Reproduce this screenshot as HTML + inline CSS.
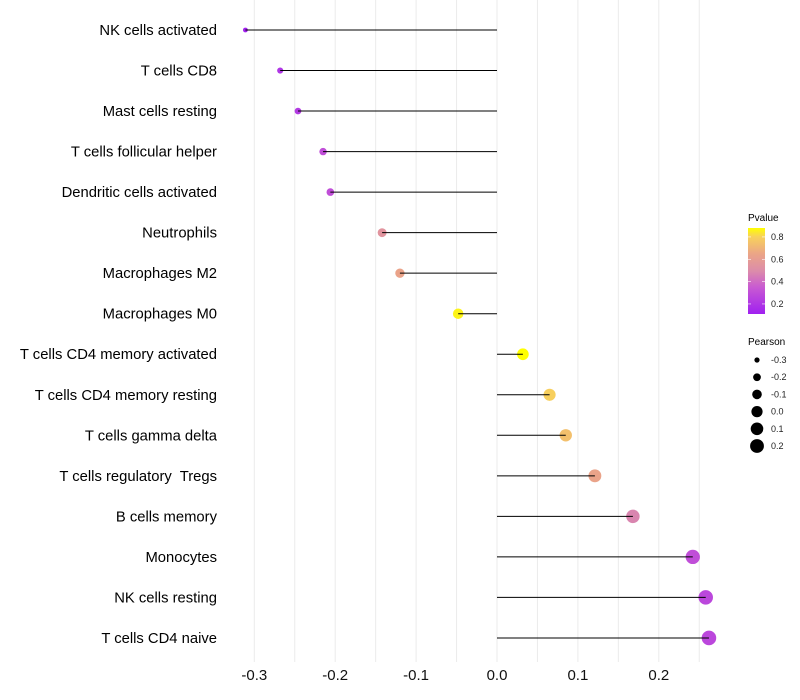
<!DOCTYPE html>
<html><head><meta charset="utf-8">
<style>
body{margin:0;background:#fff;font-family:"Liberation Sans",sans-serif;}
svg{display:block}
text{white-space:pre}
</style></head>
<body>
<svg id="chart" width="800" height="700">
<g id="grid"></g><g id="marks"></g><g id="ylabels"></g><g id="xlabels"></g>
<g id="legend">
<defs><linearGradient id="pg" x1="0" y1="1" x2="0" y2="0">
<stop offset="0" stop-color="rgb(160,32,240)"/><stop offset="0.31" stop-color="rgb(200,90,210)"/>
<stop offset="0.5" stop-color="rgb(220,140,170)"/><stop offset="0.7" stop-color="rgb(235,165,135)"/>
<stop offset="0.9" stop-color="rgb(248,210,90)"/><stop offset="1" stop-color="rgb(255,255,0)"/></linearGradient></defs>
<text x="748" y="221" font-size="10">Pvalue</text>
<rect x="748" y="228" width="17" height="86" fill="url(#pg)"/>
<g id="cbticks"></g>
<text x="748" y="345" font-size="10">Pearson</text>
<g id="sizeleg"></g>
</g>
</svg>
<script>
const categories=["NK cells activated","T cells CD8","Mast cells resting","T cells follicular helper","Dendritic cells activated","Neutrophils","Macrophages M2","Macrophages M0","T cells CD4 memory activated","T cells CD4 memory resting","T cells gamma delta","T cells regulatory  Tregs","B cells memory","Monocytes","NK cells resting","T cells CD4 naive"];
const pearson=[-0.311,-0.268,-0.246,-0.215,-0.206,-0.142,-0.120,-0.048,0.032,0.065,0.085,0.121,0.168,0.242,0.258,0.262];
const pvalue=[0.12,0.2,0.22,0.3,0.3,0.55,0.64,0.86,0.88,0.79,0.74,0.64,0.48,0.3,0.27,0.27];
const xTicks=[-0.3,-0.2,-0.1,0.0,0.1,0.2];
const xTickLabels=["-0.3","-0.2","-0.1","0.0","0.1","0.2"];
const pTicks=[0.2,0.4,0.6,0.8];
const sizeTicks=[-0.3,-0.2,-0.1,0.0,0.1,0.2];
const sizeTickLabels=["-0.3","-0.2","-0.1","0.0","0.1","0.2"];

const NS="http://www.w3.org/2000/svg";
const x=v=>497+v*809;
const y=i=>30+i*40.53;
const r=v=>Math.sqrt(Math.max(1,6+(v+0.31)*82));
const pY=p=>314-(p-0.11)/(0.88-0.11)*86;
const stops=[[0.11,[160,32,240]],[0.35,[200,90,210]],[0.5,[220,140,170]],[0.65,[235,165,135]],[0.8,[248,210,90]],[0.88,[255,255,0]]];
function col(p){p=Math.max(0.11,Math.min(0.88,p));for(let k=0;k<stops.length-1;k++){const[a,ca]=stops[k],[b,cb]=stops[k+1];if(p<=b){const t=(p-a)/(b-a);return "rgb("+ca.map((c,j)=>Math.round(c+(cb[j]-c)*t)).join(",")+")";}}return "rgb(255,255,0)";}
function mk(t,attrs,parent){const e=document.createElementNS(NS,t);for(const k in attrs)e.setAttribute(k,attrs[k]);document.getElementById(parent).appendChild(e);return e;}

for(let g=-0.3;g<=0.2501;g+=0.05){
 const l=mk("line",{x1:x(g),x2:x(g),y1:0,y2:662,stroke:"#ebebeb","stroke-width":1},"grid");
 
 
}
xTicks.forEach((v,i)=>{
 const t=mk("text",{x:x(v),y:680,"font-size":15,"text-anchor":"middle",fill:"#111"},"xlabels");
 t.textContent=xTickLabels[i];
 
 
});
categories.forEach((c,i)=>{
 const t=mk("text",{x:217,y:y(i)+5,"font-size":14.8,"text-anchor":"end",fill:"#000"},"ylabels");
 t.textContent=c;
 
 
 const pt=mk("circle",{cx:x(pearson[i]),cy:y(i),r:r(pearson[i]),fill:col(pvalue[i])},"marks");
 
 
 const ln=mk("line",{x1:x(0),x2:x(pearson[i]),y1:y(i),y2:y(i),stroke:"#000","stroke-width":1},"marks");
 
 
});
pTicks.forEach(p=>{
 mk("line",{x1:748,x2:751,y1:pY(p),y2:pY(p),stroke:"#fff","stroke-width":0.6},"cbticks");
 mk("line",{x1:762,x2:765,y1:pY(p),y2:pY(p),stroke:"#fff","stroke-width":0.6},"cbticks");
 const t=mk("text",{x:771,y:pY(p)+3,"font-size":9,fill:"#222"},"cbticks");
 t.textContent=p.toFixed(1);
 
 
});
sizeTicks.forEach((v,i)=>{
 const cy=360+i*17.2;
 const c=mk("circle",{cx:757,cy:cy,r:r(v),fill:"#000"},"sizeleg");
 
 
 const t=mk("text",{x:771,y:cy+3,"font-size":9,fill:"#222"},"sizeleg");
 t.textContent=sizeTickLabels[i];
 
 
});
</script>
</body></html>
